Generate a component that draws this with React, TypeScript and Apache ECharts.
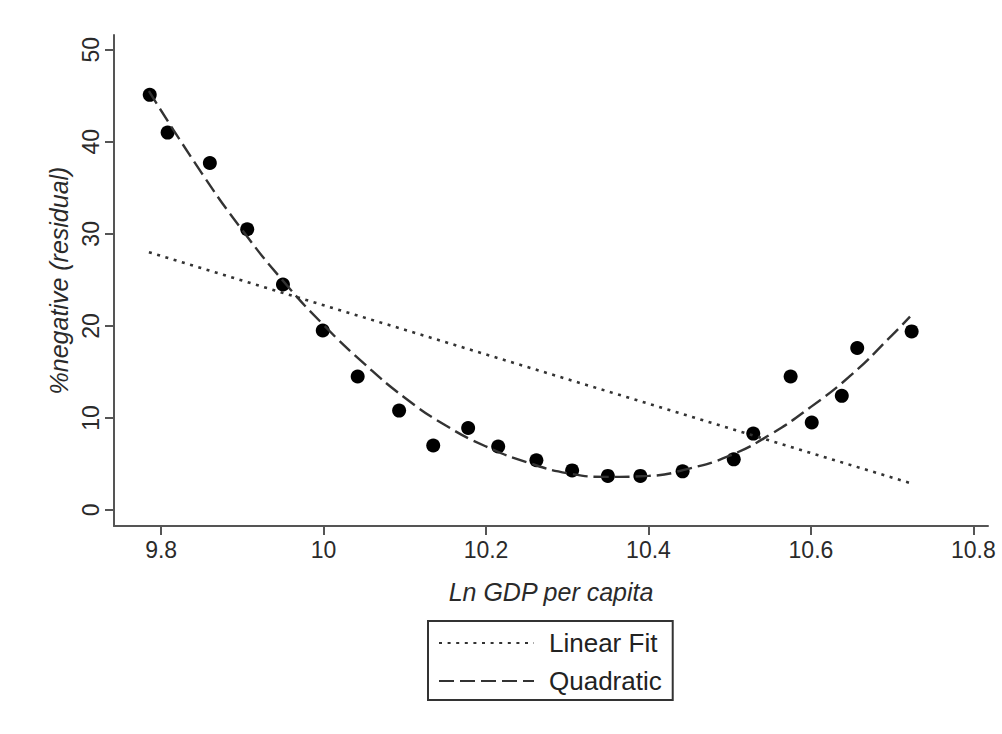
import React, { useEffect, useRef } from "react";
import * as echarts from "echarts";

const pointX = [9.786, 9.808, 9.86, 9.906, 9.95, 9.999, 10.042, 10.093, 10.135, 10.178, 10.215, 10.262, 10.306, 10.35, 10.39, 10.442, 10.505, 10.529, 10.575, 10.601, 10.638, 10.657, 10.724];
const pointY = [45.1, 41.0, 37.7, 30.5, 24.5, 19.5, 14.5, 10.8, 7.0, 8.9, 6.9, 5.4, 4.3, 3.7, 3.7, 4.2, 5.5, 8.3, 14.5, 9.5, 12.4, 17.6, 19.4];

const linearX = [9.785, 10.723];
const linearY = [28.0, 2.9];

const quadX = [9.785, 9.85, 9.9, 9.95, 10.0, 10.05, 10.1, 10.15, 10.2, 10.25, 10.3, 10.35, 10.4, 10.45, 10.5, 10.55, 10.6, 10.65, 10.7, 10.722];
const quadY = [45.5, 36.6, 30.4, 24.9, 20.1, 15.9, 12.2, 9.2, 6.9, 5.2, 4.0, 3.6, 3.7, 4.5, 5.9, 8.2, 11.2, 14.7, 19.0, 21.0];

const xTicks = [9.8, 10, 10.2, 10.4, 10.6, 10.8];
const yTicks = [0, 10, 20, 30, 40, 50];

const FONT = "Liberation Sans";

export default function App() {
  const ref = useRef<HTMLDivElement>(null);
  useEffect(() => {
    const chart = echarts.init(ref.current!, null, { renderer: "svg" });
    const axisColor = "#555";
    chart.setOption({
      animation: false,
      backgroundColor: "#fff",
      textStyle: { fontFamily: FONT },
      grid: { left: 114, right: 14, top: 35, bottom: 208 },
      xAxis: {
        type: "value",
        min: 9.742,
        max: 10.818,
        name: "Ln GDP per capita",
        nameLocation: "middle",
        nameGap: 53,
        nameTextStyle: { fontFamily: FONT, fontSize: 25, fontStyle: "italic", color: "#2a2a2a" },
        splitLine: { show: false },
        axisLine: { show: true, onZero: false, lineStyle: { color: axisColor, width: 2 } },
        axisTick: { show: true, length: 9, customValues: xTicks, lineStyle: { color: axisColor, width: 2 } },
        axisLabel: {
          customValues: xTicks,
          margin: 12,
          fontFamily: FONT,
          fontSize: 23,
          color: "#2a2a2a",
          formatter: (v: number) => String(v),
        },
      },
      yAxis: {
        type: "value",
        min: -1.74,
        max: 51.6,
        name: "%negative (residual)",
        nameLocation: "middle",
        nameGap: 43,
        nameTextStyle: { fontFamily: FONT, fontSize: 25, fontStyle: "italic", color: "#2a2a2a" },
        splitLine: { show: false },
        axisLine: { show: true, onZero: false, lineStyle: { color: axisColor, width: 2 } },
        axisTick: { show: true, length: 9, customValues: yTicks, lineStyle: { color: axisColor, width: 2 } },
        axisLabel: {
          customValues: yTicks,
          rotate: 90,
          margin: 12,
          fontFamily: FONT,
          fontSize: 23,
          color: "#2a2a2a",
          formatter: (v: number) => String(v),
        },
      },
      legend: {
        data: ["Linear Fit", "Quadratic"],
        orient: "vertical",
        left: 428,
        top: 621,
        padding: [9, 11, 6, 10],
        itemWidth: 95,
        itemHeight: 14,
        itemGap: 12,
        borderColor: "#333",
        borderWidth: 2,
        itemStyle: { opacity: 0, color: "transparent", borderWidth: 0 },
        textStyle: { fontFamily: FONT, fontSize: 26, color: "#222", padding: [0, 0, 0, 10] },
        selectedMode: false,
      },
      series: [
        {
          name: "Linear Fit",
          type: "line",
          data: linearX.map((x, i) => [x, linearY[i]]),
          symbol: "none",
          lineStyle: { color: "#333", width: 2.6, type: [3, 5.6] },
          itemStyle: { color: "#333" },
        },
        {
          name: "Quadratic",
          type: "line",
          data: quadX.map((x, i) => [x, quadY[i]]),
          symbol: "none",
          smooth: true,
          lineStyle: { color: "#333", width: 2.4, type: [15, 6] },
          itemStyle: { color: "#333" },
        },
        {
          name: "Points",
          type: "scatter",
          data: pointX.map((x, i) => [x, pointY[i]]),
          symbol: "circle",
          symbolSize: 14,
          itemStyle: { color: "#000", opacity: 1 },
        },
      ],
    });
    return () => chart.dispose();
  }, []);
  return (
    <div
      ref={ref}
      style={{ position: "absolute", left: 0, top: 0, width: 1002, height: 734 }}
    />
  );
}
